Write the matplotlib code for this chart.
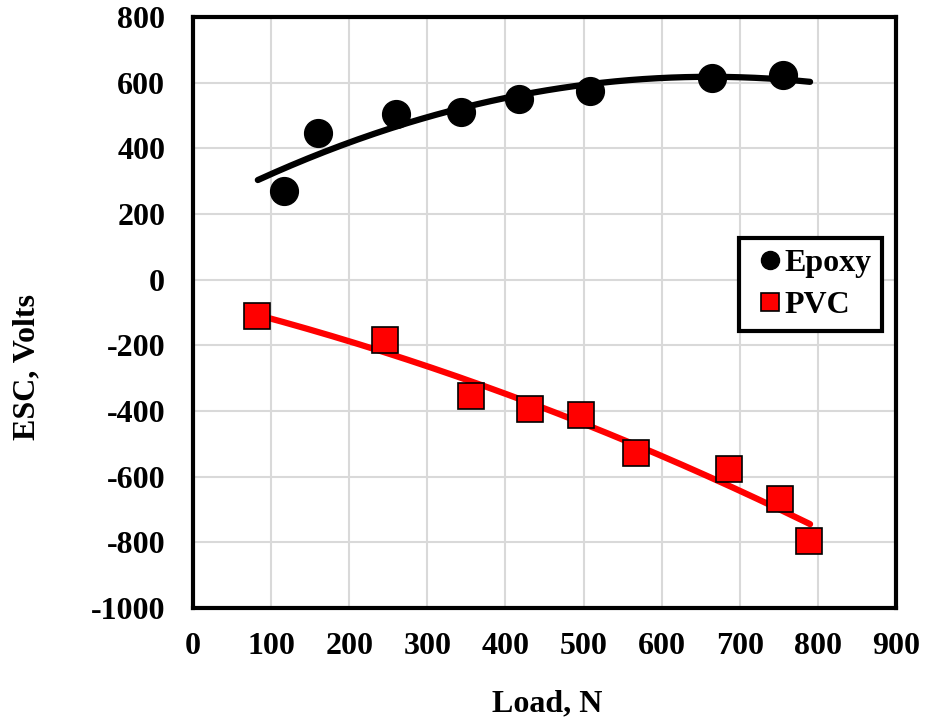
import numpy as np
import matplotlib
matplotlib.use("Agg")
import matplotlib.pyplot as plt

# Data
epoxy_load = [116, 160, 260, 343, 417, 508, 664, 755]
epoxy_esc = [270, 447, 504, 510, 551, 575, 614, 622]
pvc_load = [82, 246, 356, 431, 497, 567, 686, 751, 788]
pvc_esc = [-111, -184, -354, -394, -412, -527, -578, -667, -796]
epoxy_trend_range = [83, 790]
pvc_trend_range = [82, 790]
x_ticks = list(range(0, 901, 100))
y_ticks = list(range(-1000, 801, 200))

plt.rcParams['font.family'] = ['Liberation Serif', 'DejaVu Serif']
plt.rcParams['font.weight'] = 'bold'
plt.rcParams['axes.unicode_minus'] = False

fig = plt.figure(figsize=(9.25, 7.25), dpi=100)
ax = fig.add_axes([193/925, 1-608/725, (896-193)/925, (608-17)/725])

# Trendlines: 2nd order polynomial fits
for xs, ys, rng, col in [(epoxy_load, epoxy_esc, epoxy_trend_range, 'black'),
                         (pvc_load, pvc_esc, pvc_trend_range, '#ff0000')]:
    c = np.polyfit(xs, ys, 2)
    xx = np.linspace(rng[0], rng[1], 200)
    ax.plot(xx, np.polyval(c, xx), color=col, lw=4.5, solid_capstyle='round', zorder=3)

ax.plot(epoxy_load, epoxy_esc, 'o', ms=20, color='black', zorder=4, label='Epoxy')
ax.plot(pvc_load, pvc_esc, 's', ms=19, mfc='#ff0000', mec='black', mew=1.2, zorder=4, label='PVC')

ax.set_xlim(0, 900)
ax.set_ylim(-1000, 800)
ax.set_xticks(x_ticks)
ax.set_yticks(y_ticks)
ax.grid(True, color='#d9d9d9', lw=1.5)
ax.set_axisbelow(True)
ax.tick_params(axis='x', length=0, labelsize=23, pad=17)
ax.tick_params(axis='y', length=0, labelsize=23, pad=20)
for lab in ax.get_xticklabels() + ax.get_yticklabels():
    lab.set_fontweight('bold')
for s in ax.spines.values():
    s.set_linewidth(3)
    s.set_color('black')

fig.text(27/925, 1-367/725, 'ESC, Volts', rotation=90, ha='center', va='center',
         fontsize=23, fontweight='bold')
fig.text(547/925, 1-704/725, 'Load, N', ha='center', va='center',
         fontsize=23, fontweight='bold')

leg = ax.legend(loc='upper left', bbox_to_anchor=((739-193)/703, (608-238)/591),
                frameon=True, fancybox=False, edgecolor='black', markerscale=0.65,
                handlelength=1.3, handletextpad=-0.2, borderpad=0.33, labelspacing=0.4,
                borderaxespad=0, prop={'size': 23, 'weight': 'bold'})
leg.get_frame().set_linewidth(3)
leg.get_frame().set_alpha(1)

fig.savefig('out.png', dpi=100)
